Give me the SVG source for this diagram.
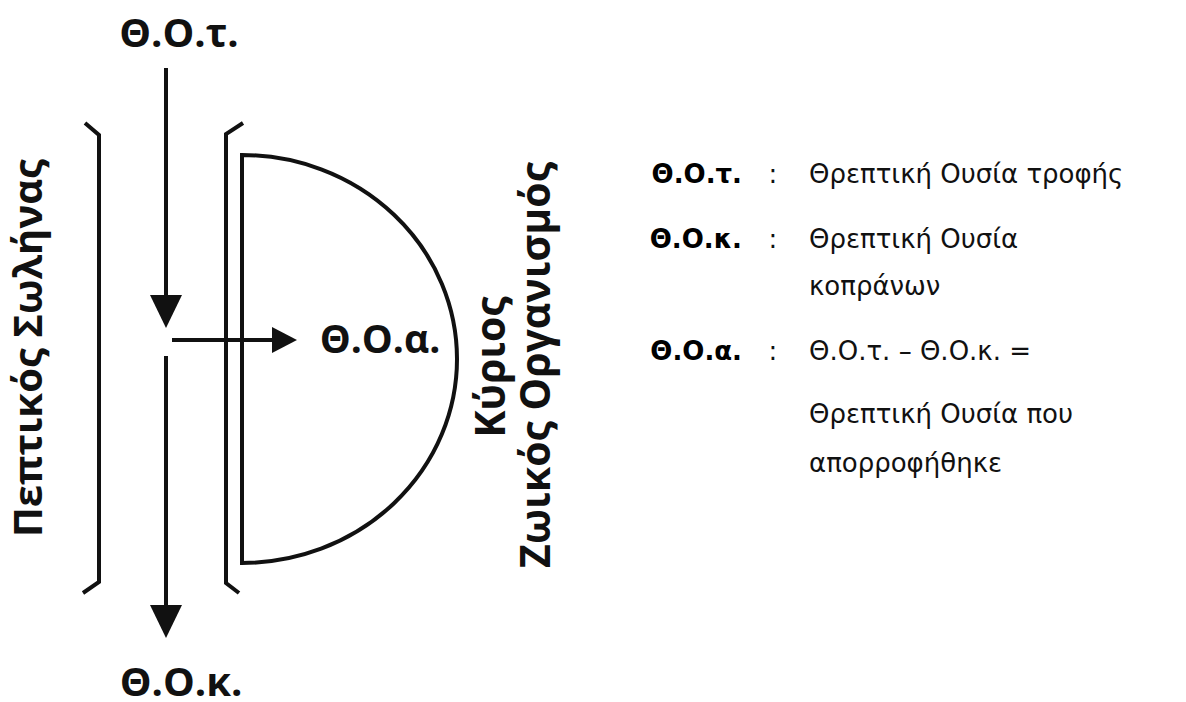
<svg xmlns="http://www.w3.org/2000/svg" width="1186" height="702" viewBox="0 0 1186 702">
<style>
.ln{fill:none;stroke:#111;stroke-width:4;stroke-linejoin:miter}
.hd{fill:#111;stroke:none}
.big{font-family:"Open Sans","Liberation Sans",sans-serif;font-weight:700;fill:#111}
.lb{font-family:"DejaVu Sans","Liberation Sans",sans-serif;font-weight:700;font-size:26px;fill:#000}
.ld{font-family:"DejaVu Sans","Liberation Sans",sans-serif;font-size:26px;fill:#111}
</style>
<rect width="1186" height="702" fill="#fff"/>
<g id="tube">
<polyline class="ln" points="85,123 99,135 99,582 83,593"/>
<polyline class="ln" points="243,123 226,134 226,583 239,593"/>
<text class="big" font-size="40" text-anchor="middle" transform="translate(42,348) rotate(-90)">Πεπτικός Σωλήνας</text>
</g>
<g id="organism">
<path class="ln" d="M242,155 A215,204 0 0 1 242,563 Z"/>
<text class="big" font-size="41" text-anchor="middle" transform="translate(505,367) rotate(-90)">Κύριος</text>
<text class="big" font-size="41" text-anchor="middle" transform="translate(550,365) rotate(-90)">Ζωικός Οργανισμός</text>
</g>
<g id="Θ.Ο.τ.-node">
<text class="big" font-size="40" x="179" y="47" text-anchor="middle">Θ.Ο.τ.</text>
</g>
<g id="Θ.Ο.κ.-node">
<text class="big" font-size="40" x="181" y="696" text-anchor="middle">Θ.Ο.κ.</text>
</g>
<g id="Θ.Ο.α.-node">
<text class="big" font-size="39" x="380" y="353" text-anchor="middle">Θ.Ο.α.</text>
</g>
<g id="connectors">
<line class="ln" x1="166" y1="68" x2="166" y2="300"/>
<polygon class="hd" points="150,295 182,295 166,328"/>
<line class="ln" x1="172" y1="340" x2="278" y2="340"/>
<polygon class="hd" points="272,327 272,353 297,340"/>
<line class="ln" x1="166" y1="356" x2="166" y2="610"/>
<polygon class="hd" points="150,605 182,605 166,638"/>
</g>
<g id="legend">
<text class="lb" x="742" y="183" text-anchor="end">Θ.Ο.τ.</text>
<text class="ld" x="773" y="183" text-anchor="middle">:</text>
<text class="ld" x="809" y="183">Θρεπτική Ουσία τροφής</text>
<text class="lb" x="742" y="248" text-anchor="end">Θ.Ο.κ.</text>
<text class="ld" x="773" y="248" text-anchor="middle">:</text>
<text class="ld" x="809" y="248">Θρεπτική Ουσία</text>
<text class="ld" x="809" y="295">κοπράνων</text>
<text class="lb" x="742" y="360" text-anchor="end">Θ.Ο.α.</text>
<text class="ld" x="773" y="360" text-anchor="middle">:</text>
<text class="ld" x="809" y="360">Θ.Ο.τ. – Θ.Ο.κ. =</text>
<text class="ld" x="809" y="423">Θρεπτική Ουσία που</text>
<text class="ld" x="809" y="472">απορροφήθηκε</text>
</g>
</svg>
